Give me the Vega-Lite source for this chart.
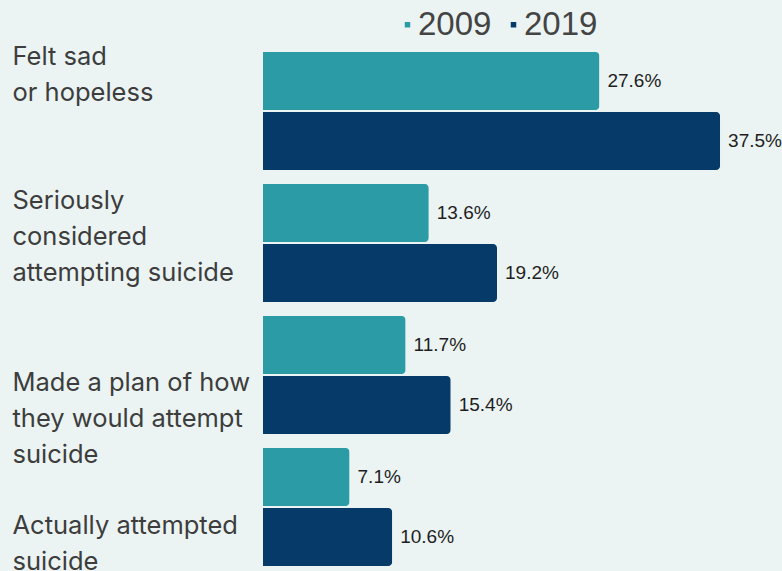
{
  "$schema": "https://vega.github.io/schema/vega-lite/v6.json",
  "autosize": "none",
  "width": 519,
  "height": 528,
  "padding": {"left": 263, "top": 45, "right": 0, "bottom": 0},
  "background": "#ebf4f3",
  "config": {"view": {"stroke": null}},
  "data": {
    "values": [
      {"category": "Felt sad or hopeless", "year": "2009", "value": 0.276},
      {"category": "Felt sad or hopeless", "year": "2019", "value": 0.375},
      {"category": "Seriously considered attempting suicide", "year": "2009", "value": 0.136},
      {"category": "Seriously considered attempting suicide", "year": "2019", "value": 0.192},
      {"category": "Made a plan of how they would attempt suicide", "year": "2009", "value": 0.117},
      {"category": "Made a plan of how they would attempt suicide", "year": "2019", "value": 0.154},
      {"category": "Actually attempted suicide", "year": "2009", "value": 0.071},
      {"category": "Actually attempted suicide", "year": "2019", "value": 0.106}
    ]
  },
  "encoding": {
    "y": {
      "field": "category",
      "type": "nominal",
      "sort": ["Felt sad or hopeless", "Seriously considered attempting suicide", "Made a plan of how they would attempt suicide", "Actually attempted suicide"],
      "scale": {"paddingInner": 0.106, "paddingOuter": 0.053},
      "axis": {
        "title": null,
        "domain": false,
        "ticks": false,
        "tickSize": 0,
        "labelAlign": "left",
        "labelBaseline": "middle",
        "labelPadding": 251,
        "labelFont": "Inter",
        "labelFontSize": 25.5,
        "labelColor": "#3d3d3d",
        "labelLineHeight": 36,
        "labelLimit": 0,
        "labelOffset": {"expr": "datum.value == 'Felt sad or hopeless' ? -54 : datum.value == 'Seriously considered attempting suicide' ? -42 : datum.value == 'Made a plan of how they would attempt suicide' ? 8 : 19"},
        "labelExpr": "datum.value == 'Felt sad or hopeless' ? ['Felt sad','or hopeless'] : datum.value == 'Seriously considered attempting suicide' ? ['Seriously','considered','attempting suicide'] : datum.value == 'Made a plan of how they would attempt suicide' ? ['Made a plan of how','they would attempt','suicide'] : ['Actually attempted','suicide']"
      }
    },
    "yOffset": {"field": "year", "type": "nominal", "scale": {"paddingInner": 0.0333, "paddingOuter": 0}},
    "x": {"field": "value", "type": "quantitative", "scale": {"domain": [0, 0.4258]}, "axis": null}
  },
  "layer": [
    {
      "mark": {"type": "bar", "cornerRadiusEnd": 4},
      "encoding": {
        "color": {
          "field": "year",
          "type": "nominal",
          "scale": {"domain": ["2009", "2019"], "range": ["#2b9ca5", "#063a68"]},
          "legend": {
            "title": null,
            "orient": "none",
            "legendX": 128,
            "legendY": -37,
            "direction": "horizontal",
            "symbolType": "square",
            "symbolSize": 30,
            "symbolStrokeWidth": 0,
            "labelFont": "Liberation Sans",
            "labelFontSize": 33,
            "labelColor": "#444444",
            "labelOffset": -6,
            "columnPadding": 5
          }
        }
      }
    },
    {
      "mark": {"type": "text", "align": "left", "baseline": "middle", "dx": 8, "font": "Liberation Sans", "fontSize": 19, "color": "#1e1e1e"},
      "encoding": {"text": {"field": "value", "type": "quantitative", "format": ".1%"}}
    }
  ]
}
